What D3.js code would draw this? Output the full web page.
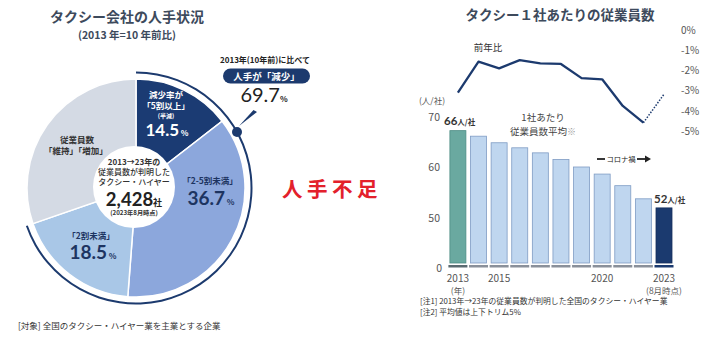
<!DOCTYPE html>
<html><head><meta charset="utf-8">
<script src="https://cdn.jsdelivr.net/npm/d3@7"></script>
<style>
html,body{margin:0;padding:0;background:#fff;}
svg{display:block;font-family:"Noto Sans CJK JP","Noto Sans",sans-serif;}
</style></head>
<body>
<svg id="c" width="711" height="337"></svg>
<script>
// ---- data ----
const pieCategories = ["減少率が「5割以上」", "「2-5割未満」", "「2割未満」", "従業員数「維持」「増加」"];
const pieValues = [14.5, 36.7, 18.5, 30.3];
const decreaseShare = 69.7;
const companies = "2,428";

const years = [2013, 2014, 2015, 2016, 2017, 2018, 2019, 2020, 2021, 2022, 2023];
const employeesPerCompany = [67.3, 66.2, 64.9, 63.9, 62.9, 61.6, 60.1, 58.7, 56.4, 53.8, 52.0];
const barLabels = ["66", "52"];
const yoyYears = [2013, 2014, 2015, 2016, 2017, 2018, 2019, 2020, 2021, 2022];
const yoyValues = [-3.1, -1.57, -1.9, -1.49, -1.65, -1.68, -2.38, -2.44, -3.76, -4.59];
const yoyDotted = [[2022, -4.59], [2023, -3.18]];
const leftTicks = [0, 50, 60, 70];
const rightTicks = [0, -1, -2, -3, -4, -5];
const xTickLabels = [[2013, "2013", "(年)"], [2015, "2015", ""], [2020, "2020", ""], [2023, "2023", "(8月時点)"]];

const svg = d3.select("#c");
const titleCol = "#3d4a5c";
const navy = "#1c3a6e";
const numFont = "Lato, 'Noto Sans', sans-serif";

// ---- LEFT: pie ----
svg.append("text").attr("x", 127).attr("y", 22).attr("text-anchor", "middle")
  .attr("font-size", 14).attr("font-weight", 700).attr("fill", titleCol).text("タクシー会社の人手状況");
svg.append("text").attr("x", 127).attr("y", 39).attr("text-anchor", "middle")
  .attr("font-size", 10.5).attr("font-weight", 700).attr("fill", titleCol).text("(2013 年=10 年前比)");

const cx = 136, cy = 188, R = 109;
const g = svg.append("g").attr("transform", `translate(${cx},${cy})`);
const pieColors = ["#1b3b73", "#8ca7dc", "#a9c7e7", "#d4dae4"];
const pie = d3.pie().sort(null).value(d => d)(pieValues);
const arc = d3.arc().innerRadius(0).outerRadius(R);
g.selectAll("path.s").data(pie).join("path").attr("class", "s")
  .attr("d", arc).attr("fill", (d, i) => pieColors[i]).attr("stroke", "#fff").attr("stroke-width", 1.5);
g.append("circle").attr("r", 41).attr("cx", -2).attr("cy", -1).attr("fill", "#fff");

// outer ring for decrease share
const ringEnd = decreaseShare / 100 * 2 * Math.PI;
g.append("path").attr("d", d3.arc().innerRadius(114.5).outerRadius(116.5).startAngle(0).endAngle(ringEnd)())
  .attr("fill", navy);
const dotA = 61 * Math.PI / 180;
const dx = Math.sin(dotA) * 115.5, dy = -Math.cos(dotA) * 115.5;
g.append("circle").attr("cx", dx).attr("cy", dy).attr("r", 5).attr("fill", navy);
g.append("path").attr("d", `M${dx + 2},${dy - 6} L${117.5},${-78} L${121},${-76} Z`).attr("fill", navy);

function tspanLine(x, y, parts, anchor, fill) {
  const t = svg.append("text").attr("x", x).attr("y", y).attr("text-anchor", anchor || "middle").attr("fill", fill);
  parts.forEach(p => {
    const s = t.append("tspan").attr("font-size", p[1]).attr("font-weight", p[2] || 700).text(p[0]);
    if (p[3]) s.attr("font-family", p[3]);
  });
  return t;
}
// dark segment labels
tspanLine(166, 98, [["減少率が", 8.5]], "middle", "#fff");
tspanLine(166, 109, [["「5割以上」", 8.5]], "middle", "#fff");
tspanLine(166, 117.5, [["(半減)", 6]], "middle", "#fff");
tspanLine(167, 136, [[pieValues[0].toFixed(1), 17, 700, numFont], [" %", 8]], "middle", "#fff");
// gray
tspanLine(77, 143, [["従業員数", 8.5]], "middle", "#333");
tspanLine(76, 154, [["「維持」「増加」", 8.5]], "middle", "#333");
// mid
tspanLine(210, 184, [["「2-5割未満」", 8.5]], "middle", "#1d3461");
tspanLine(211, 205, [[pieValues[1].toFixed(1), 19, 700, numFont], [" %", 8]], "middle", "#1d3461");
// light
tspanLine(91, 239, [["「2割未満」", 8.5]], "middle", "#1d3461");
tspanLine(93, 259, [[pieValues[2].toFixed(1), 19, 700, numFont], [" %", 8]], "middle", "#1d3461");
// center
tspanLine(134, 165, [["2013→23年の", 8]], "middle", "#333");
tspanLine(134, 175.3, [["従業員数が判明した", 8, 500]], "middle", "#333");
tspanLine(134, 185.3, [["タクシー・ハイヤー", 8, 500]], "middle", "#333");
tspanLine(134, 205.5, [[companies, 18.5, 700, numFont], ["社", 9]], "middle", "#222");
tspanLine(134, 215, [["(2023年8月時点)", 6.2]], "middle", "#333");

// annotation
tspanLine(265, 63, [["2013年(10年前)に比べて", 8]], "middle", "#222");
svg.append("rect").attr("x", 223).attr("y", 68.5).attr("width", 87).attr("height", 15).attr("rx", 7.5).attr("fill", navy);
tspanLine(266.5, 80, [["人手が「減少」", 9.5]], "middle", "#fff");
tspanLine(264, 102, [[decreaseShare.toFixed(1), 20, 400, numFont], ["%", 8]], "middle", "#222");

svg.append("text").attr("x", 18).attr("y", 329).attr("font-size", 8.5).attr("fill", "#333")
  .text("[対象] 全国のタクシー・ハイヤー業を主業とする企業");

svg.append("text").attr("x", 282).attr("y", 197).attr("font-size", 20.5).attr("font-weight", 700)
  .attr("letter-spacing", 4.5).attr("fill", "#e3202b").text("人手不足");

// ---- RIGHT: bars + line ----
svg.append("text").attr("x", 560).attr("y", 20).attr("text-anchor", "middle")
  .attr("font-size", 13.5).attr("font-weight", 700).attr("fill", titleCol).text("タクシー１社あたりの従業員数");

const x = d3.scalePoint().domain(years).range([457.9, 664]);
const y = d3.scaleLinear().domain([0, 50, 70]).range([268, 218, 117]);
const yr = d3.scaleLinear().domain([0, -5]).range([30, 131]);
const bw = 16;

const barFill = (i) => i === 0 ? "#6aa9a0" : (i === years.length - 1 ? "#1b3a6f" : "#bfd6ef");
const barStroke = (i) => i === 0 ? "#4d8c84" : (i === years.length - 1 ? "#17305c" : "#7f9cc4");
const footFill = (i) => i === 0 ? "#5a6a70" : (i === years.length - 1 ? "#1b3a6f" : "#8a909a");

svg.selectAll("rect.bar").data(employeesPerCompany).join("rect").attr("class", "bar")
  .attr("x", (d, i) => x(years[i]) - bw / 2).attr("width", bw)
  .attr("y", d => y(d)).attr("height", d => y(0) - 5 - y(d))
  .attr("fill", (d, i) => barFill(i)).attr("stroke", (d, i) => barStroke(i)).attr("stroke-width", 0.8);
svg.selectAll("rect.foot").data(years).join("rect").attr("class", "foot")
  .attr("x", d => x(d) - bw / 2 - 1.5).attr("width", bw + 3).attr("y", y(0) - 3).attr("height", 2.5)
  .attr("fill", (d, i) => footFill(i));

// left axis
const la = svg.append("g").attr("transform", "translate(440,0)")
  .call(d3.axisLeft(y).tickValues(leftTicks).tickSize(0).tickPadding(0));
la.select(".domain").remove();
la.selectAll("text").attr("font-size", 10.5).attr("fill", "#555").attr("font-family", "Noto Sans CJK JP");
la.selectAll(".tick").filter(d => d === 0).select("text").attr("x", 2);
svg.append("text").attr("x", 419).attr("y", 104).attr("font-size", 8.5).attr("fill", "#555").text("(人/社)");

// right axis
const ra = svg.append("g").attr("transform", "translate(681,0)")
  .call(d3.axisRight(yr).tickValues(rightTicks).tickSize(0).tickPadding(0).tickFormat(d => d + "%"));
ra.select(".domain").remove();
ra.selectAll("text").attr("font-size", 10).attr("fill", "#555").attr("font-family", "Noto Sans CJK JP");

// line
const line = d3.line().x(d => x(d[0])).y(d => yr(d[1]));
svg.append("path").datum(yoyYears.map((yy, i) => [yy, yoyValues[i]])).attr("d", line)
  .attr("fill", "none").attr("stroke", navy).attr("stroke-width", 2.3).attr("stroke-linejoin", "round");
svg.append("path").datum(yoyDotted).attr("d", line)
  .attr("fill", "none").attr("stroke", navy).attr("stroke-width", 1.5).attr("stroke-dasharray", "1.5,1.5");

svg.append("text").attr("x", 488).attr("y", 51).attr("text-anchor", "middle").attr("font-size", 9.5).attr("fill", "#333").text("前年比");

// x labels
xTickLabels.forEach(t => {
  svg.append("text").attr("x", x(t[0])).attr("y", 281.5).attr("text-anchor", "middle").attr("font-size", 10).attr("fill", "#555").text(t[1]);
  if (t[2]) svg.append("text").attr("x", x(t[0])).attr("y", 294).attr("text-anchor", "middle").attr("font-size", 8.5).attr("fill", "#555").text(t[2]);
});

// bar annotations
tspanLine(444, 125, [[barLabels[0], 11.5, 700, numFont], ["人/社", 7.5]], "start", "#333");
tspanLine(654, 203, [[barLabels[1], 11.5, 700, numFont], ["人/社", 7.5]], "start", "#333");
tspanLine(543, 121, [["1社あたり", 9.5, 400]], "middle", "#444");
const t2 = tspanLine(543, 135, [["従業員数平均", 9.5, 400]], "middle", "#444");
t2.append("tspan").attr("font-size", 9).attr("fill", "#999").text("※");

// corona
svg.append("line").attr("x1", 597).attr("x2", 605).attr("y1", 159).attr("y2", 159).attr("stroke", "#222").attr("stroke-width", 1.8);
svg.append("text").attr("x", 621).attr("y", 161.8).attr("text-anchor", "middle").attr("font-size", 7.3).attr("fill", "#222").text("コロナ禍");
svg.append("line").attr("x1", 637).attr("x2", 646).attr("y1", 159).attr("y2", 159).attr("stroke", "#222").attr("stroke-width", 1.8);
svg.append("path").attr("d", "M645,155.5 L651,159 L645,162.5 Z").attr("fill", "#222");

// notes
svg.append("text").attr("x", 420).attr("y", 303.5).attr("font-size", 7.8).attr("fill", "#333").text("[注1]  2013年→23年の従業員数が判明した全国のタクシー・ハイヤー業");
svg.append("text").attr("x", 420).attr("y", 314.5).attr("font-size", 7.8).attr("fill", "#333").text("[注2]  平均値は上下トリム5%");
</script>
</body></html>
